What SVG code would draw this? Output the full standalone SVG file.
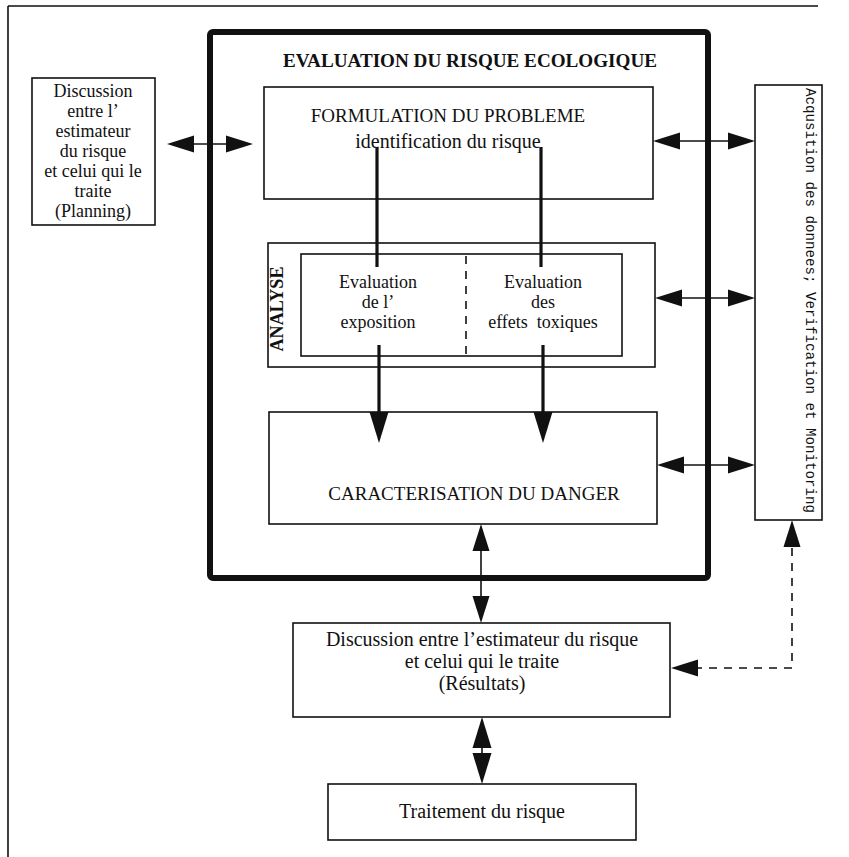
<svg xmlns="http://www.w3.org/2000/svg" xmlns:xlink="http://www.w3.org/1999/xlink" width="849" height="857" viewBox="0 0 849 857">
<style>
.box{fill:none;stroke:#111;stroke-width:1.6}
.t{font-family:"Liberation Serif","Times New Roman",serif;fill:#111;text-anchor:middle}
.ln{stroke:#111;stroke-width:1.6;fill:none}
.thk{stroke:#111;stroke-width:3.2;fill:none}
.dash{stroke:#111;stroke-width:1.6;fill:none;stroke-dasharray:8 7}
.head{fill:#111}
</style>
<defs>
<path id="ah" class="head" d="M0,0 L-27,-8.5 L-27,8.5 Z"/>
<path id="av" class="head" d="M0,0 L-31,-9.5 L-31,9.5 Z"/>
</defs>
<rect width="849" height="857" fill="#fff"/>
<g id="page-frame">
<path class="ln" d="M8,6 H818 M8,6 V857"/>
</g>
<g id="evaluation-frame">
<rect x="210" y="32" width="498" height="546" rx="3" fill="none" stroke="#111" stroke-width="6"/>
<text class="t" x="470" y="67" font-size="19" font-weight="bold" textLength="374" lengthAdjust="spacingAndGlyphs">EVALUATION DU RISQUE ECOLOGIQUE</text>
</g>
<g id="planning">
<rect class="box" x="32" y="78" width="123" height="147"/>
<text class="t" font-size="18"><tspan x="93" y="97">Discussion</tspan><tspan x="93" y="117">entre l’</tspan><tspan x="93" y="137">estimateur</tspan><tspan x="93" y="157">du risque</tspan><tspan x="93" y="177">et celui qui le</tspan><tspan x="93" y="197">traite</tspan><tspan x="93" y="217">(Planning)</tspan></text>
</g>
<g id="formulation">
<rect class="box" x="264" y="87" width="389" height="112"/>
<text class="t" x="448" y="122" font-size="19">FORMULATION DU PROBLEME</text>
<text class="t" x="448" y="148" font-size="20">identification du risque</text>
</g>
<g id="analyse">
<rect class="box" x="268" y="243" width="387" height="124"/>
<text class="t" transform="translate(283,309) rotate(-90)" font-size="19" font-weight="bold" textLength="85" lengthAdjust="spacingAndGlyphs">ANALYSE</text>
<rect class="box" x="301" y="254" width="321" height="102"/>
<path class="dash" d="M466,256 V356"/>
</g>
<g id="exposition">
<text class="t" font-size="18"><tspan x="378" y="288">Evaluation</tspan><tspan x="378" y="308">de l’</tspan><tspan x="378" y="328">exposition</tspan></text>
</g>
<g id="effets">
<text class="t" font-size="18" style="white-space:pre"><tspan x="543" y="288">Evaluation</tspan><tspan x="543" y="308">des</tspan><tspan x="543" y="328">effets  toxiques</tspan></text>
</g>
<g id="caracterisation">
<rect class="box" x="269" y="412" width="388" height="112"/>
<text class="t" x="474" y="500" font-size="19">CARACTERISATION DU DANGER</text>
</g>
<g id="acquisition">
<rect class="box" x="755" y="85" width="67" height="435"/>
<text transform="translate(806,88) rotate(90)" font-family="'Liberation Mono','Courier New',monospace" font-size="15" fill="#111" textLength="425" lengthAdjust="spacingAndGlyphs">Acqusition des donnees; Verification et Monitoring</text>
</g>
<g id="resultats">
<rect class="box" x="293" y="623" width="377" height="94"/>
<text class="t" font-size="20"><tspan x="482" y="646">Discussion entre l’estimateur du risque</tspan><tspan x="482" y="668">et celui qui le traite</tspan><tspan x="482" y="690">(Résultats)</tspan></text>
</g>
<g id="traitement">
<rect class="box" x="328" y="784" width="308" height="56"/>
<text class="t" x="482" y="818" font-size="20">Traitement du risque</text>
</g>
<g id="connectors">
<path class="ln" d="M180,144 H240"/>
<use xlink:href="#ah" transform="translate(167,144) rotate(180)"/>
<use xlink:href="#ah" transform="translate(253,144)"/>
<path class="ln" d="M668,141 H740"/>
<use xlink:href="#ah" transform="translate(653,141) rotate(180)"/>
<use xlink:href="#ah" transform="translate(755,141)"/>
<path class="ln" d="M668,298 H740"/>
<use xlink:href="#ah" transform="translate(655,298) rotate(180)"/>
<use xlink:href="#ah" transform="translate(755,298)"/>
<path class="ln" d="M672,465 H740"/>
<use xlink:href="#ah" transform="translate(657,465) rotate(180)"/>
<use xlink:href="#ah" transform="translate(755,465)"/>
<path class="thk" d="M377,147 V267 M541,147 V267"/>
<path class="thk" d="M379,345 V420 M543,345 V420"/>
<use xlink:href="#av" transform="translate(379,443) rotate(90)"/>
<use xlink:href="#av" transform="translate(543,443) rotate(90)"/>
<path class="ln" d="M481,540 V610"/>
<use xlink:href="#ah" transform="translate(481,524) rotate(-90)"/>
<use xlink:href="#ah" transform="translate(481,623) rotate(90)"/>
<path class="ln" d="M482,735 V770"/>
<use xlink:href="#av" transform="translate(482,717) rotate(-90)"/>
<use xlink:href="#av" transform="translate(482,784) rotate(90)"/>
<path class="dash" d="M792,548 V668 H697"/>
<use xlink:href="#ah" transform="translate(792,520) rotate(-90)"/>
<use xlink:href="#ah" transform="translate(671,668) rotate(180)"/>
</g>
</svg>
